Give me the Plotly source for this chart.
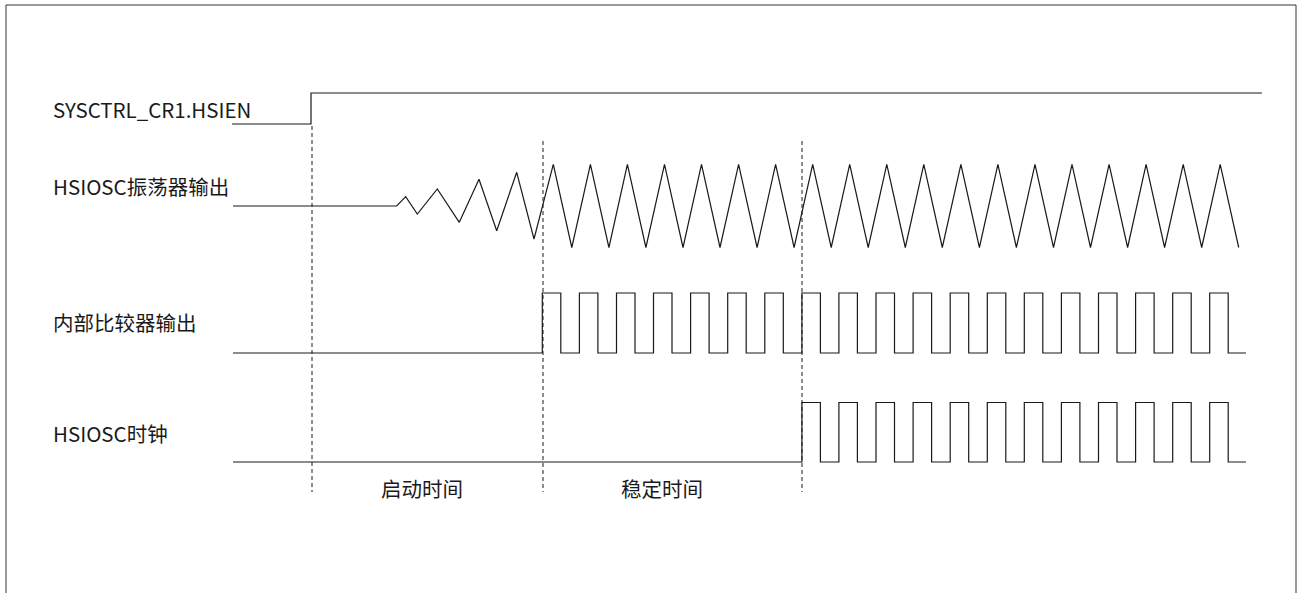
import plotly.graph_objects as go

# ---------------- data (in the chart's x/y units) ----------------
signal_labels = ["SYSCTRL_CR1.HSIEN", "HSIOSC振荡器输出", "内部比较器输出", "HSIOSC时钟"]
label_y = [109, 186, 322, 433]

phase_labels = ["启动时间", "稳定时间"]
phase_x = [422, 662]
phase_y = 488

# HSIEN enable step
hsien_t = [232, 311, 311, 1262]
hsien_v = [124, 124, 93, 93]

# oscillator output: flat, growing start-up oscillation, then steady triangle wave
osc_t = [233, 396.7, 405.7, 417.3, 437.3, 459.3, 479.0, 496.7, 516.7, 534.0,
         553.3, 571.8, 590.4, 608.9, 627.4, 645.9, 664.5, 683.0, 701.5, 720.0,
         738.6, 757.1, 775.6, 794.1, 812.7, 831.2, 849.7, 868.2, 886.8, 905.3,
         923.8, 942.3, 960.9, 979.4, 997.9, 1016.4, 1035.0, 1053.5, 1072.0, 1090.5,
         1109.1, 1127.6, 1146.1, 1164.6, 1183.2, 1201.7, 1220.2, 1238.7]
osc_v = [206, 206, 196.7, 214, 189, 222.3, 179.3, 230.7, 172.3, 239,
         164.3, 247.5, 164.3, 247.5, 164.3, 247.5, 164.3, 247.5, 164.3, 247.5,
         164.3, 247.5, 164.3, 247.5, 164.3, 247.5, 164.3, 247.5, 164.3, 247.5,
         164.3, 247.5, 164.3, 247.5, 164.3, 247.5, 164.3, 247.5, 164.3, 247.5,
         164.3, 247.5, 164.3, 247.5, 164.3, 247.5, 164.3, 247.5]

# comparator output edges
cmp_rise = [542.3, 579.4, 616.5, 653.5, 690.6, 727.7, 764.8, 801.9, 838.9, 876.0,
            913.1, 950.2, 987.3, 1024.3, 1061.4, 1098.5, 1135.6, 1172.7, 1209.7]
cmp_fall = [560.8, 597.9, 635.0, 672.0, 709.1, 746.2, 783.3, 820.4, 857.4, 894.5,
            931.6, 968.7, 1005.8, 1042.8, 1079.9, 1117.0, 1154.1, 1191.2, 1228.2]
cmp_hi, cmp_lo = 293, 353

# HSIOSC clock edges (gated after stabilisation)
clk_rise = [801.9, 838.9, 876.0, 913.1, 950.2, 987.3, 1024.3, 1061.4, 1098.5,
            1135.6, 1172.7, 1209.7]
clk_fall = [820.4, 857.4, 894.5, 931.6, 968.7, 1005.8, 1042.8, 1079.9, 1117.0,
            1154.1, 1191.2, 1228.2]
clk_hi, clk_lo = 402.5, 462

wave_start, wave_end = 233, 1246

# dashed phase markers
marker_t = [312, 543, 802]
marker_top = [126, 141, 141]
marker_bottom = 492


def square(rises, falls, hi, lo):
    xs, ys = [wave_start], [lo]
    for r, f in zip(rises, falls):
        xs += [r, r, f, f]
        ys += [lo, hi, hi, lo]
    xs.append(wave_end)
    ys.append(lo)
    return xs, ys


LINE = dict(color="#1a1a1a", width=1.2)
FONT = dict(family="Noto Sans CJK SC, Noto Sans, sans-serif", size=20.5, color="#1a1a1a")

fig = go.Figure()

fig.add_trace(go.Scatter(x=hsien_t, y=hsien_v, mode="lines", line=LINE))
fig.add_trace(go.Scatter(x=osc_t, y=osc_v, mode="lines", line=LINE))
cx, cy = square(cmp_rise, cmp_fall, cmp_hi, cmp_lo)
fig.add_trace(go.Scatter(x=cx, y=cy, mode="lines", line=LINE))
kx, ky = square(clk_rise, clk_fall, clk_hi, clk_lo)
fig.add_trace(go.Scatter(x=kx, y=ky, mode="lines", line=LINE))

for t, top in zip(marker_t, marker_top):
    fig.add_trace(go.Scatter(x=[t, t], y=[top, marker_bottom], mode="lines",
                             line=dict(color="#1a1a1a", width=1, dash="4px,3px")))

for lab, y in zip(signal_labels, label_y):
    fig.add_annotation(x=51, y=y, text=lab, showarrow=False, xanchor="left",
                       yanchor="middle", font=FONT)
for lab, x in zip(phase_labels, phase_x):
    fig.add_annotation(x=x, y=phase_y, text=lab, showarrow=False, xanchor="center",
                       yanchor="middle", font=FONT)

# outer frame
fig.add_shape(type="rect", xref="x", yref="y", x0=6, y0=5, x1=1296, y1=610,
              line=dict(color="#333333", width=1))

fig.update_layout(
    width=1301, height=593,
    margin=dict(l=0, r=0, t=0, b=0),
    paper_bgcolor="white", plot_bgcolor="white",
    showlegend=False,
    xaxis=dict(range=[0, 1301], visible=False, fixedrange=True),
    yaxis=dict(range=[593, 0], visible=False, fixedrange=True),
)

fig.write_html("out.html", config={"displayModeBar": False},
               post_script="document.body.style.margin='0';document.body.style.overflow='hidden';")
